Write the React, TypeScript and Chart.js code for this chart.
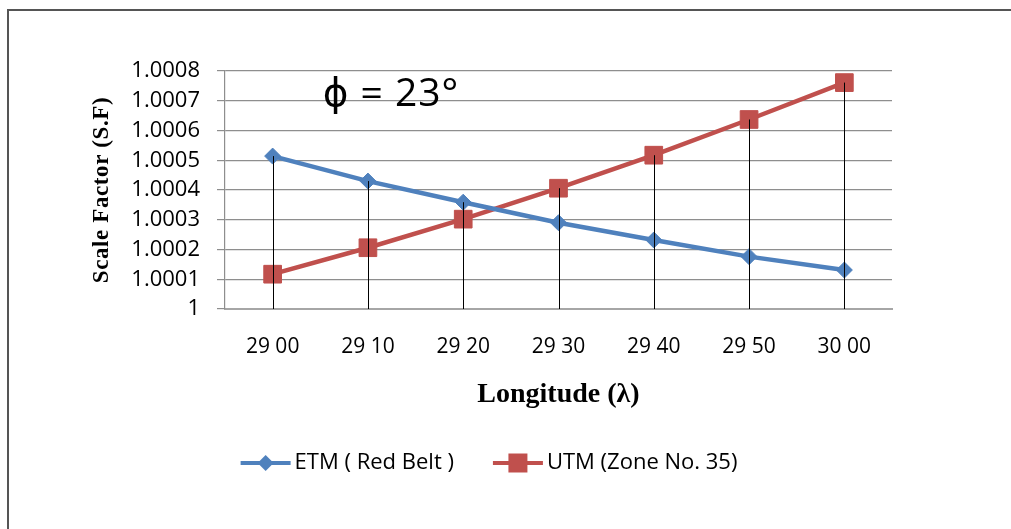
import React, { useEffect, useRef } from 'react';
import { Chart, registerables } from 'chart.js';

Chart.register(...registerables);

const categories = ['29 00', '29 10', '29 20', '29 30', '29 40', '29 50', '30 00'];
const etmValues = [1.000514, 1.00043, 1.000359, 1.00029, 1.000232, 1.000176, 1.000131];
const utmValues = [1.000117, 1.000206, 1.000302, 1.000406, 1.000517, 1.000637, 1.000761];
const yTickValues = [1, 1.0001, 1.0002, 1.0003, 1.0004, 1.0005, 1.0006, 1.0007, 1.0008];
const yTickLabels = ['1', '1.0001', '1.0002', '1.0003', '1.0004', '1.0005', '1.0006', '1.0007', '1.0008'];
const seriesLabels = ['ETM ( Red Belt )', 'UTM (Zone No. 35)'];
const xTitle = 'Longitude (\u03BB)';
const yTitle = 'Scale Factor (S.F)';
const annotationText = '\u03D5 = 23\u00B0';

const BLUE = '#4F81BD';
const RED = '#C0504D';
const GRID = '#8e8e8e';
const SANS = '"Open Sans", "DejaVu Sans", sans-serif';
const SERIF = '"Liberation Serif", "DejaVu Serif", serif';

function drawMarker(ctx: CanvasRenderingContext2D, style: string, x: number, y: number, h: number, color: string) {
  ctx.save();
  ctx.fillStyle = color;
  ctx.beginPath();
  if (style === 'rectRot') {
    ctx.moveTo(x, y - h);
    ctx.lineTo(x + h, y);
    ctx.lineTo(x, y + h);
    ctx.lineTo(x - h, y);
    ctx.closePath();
  } else {
    ctx.rect(x - h, y - h, 2 * h, 2 * h);
  }
  ctx.fill();
  ctx.restore();
}

const decorPlugin = {
  id: 'decor',
  afterDatasetsDraw(chart: any) {
    const ctx: CanvasRenderingContext2D = chart.ctx;
    const m0 = chart.getDatasetMeta(0);
    const m1 = chart.getDatasetMeta(1);
    const bottom = chart.chartArea.bottom;
    ctx.save();
    ctx.strokeStyle = '#000';
    ctx.lineWidth = 1;
    for (let i = 0; i < m0.data.length; i++) {
      const p0 = m0.data[i];
      const p1 = m1.data[i];
      const top = Math.min(p0.y, p1.y);
      const x = Math.round(p0.x) + 0.5;
      ctx.beginPath();
      ctx.moveTo(x, top);
      ctx.lineTo(x, bottom);
      ctx.stroke();
    }
    ctx.restore();
  },
  afterDraw(chart: any) {
    const ctx: CanvasRenderingContext2D = chart.ctx;
    const area = chart.chartArea;
    ctx.save();
    ctx.fillStyle = '#000';
    // y title
    ctx.save();
    ctx.translate(102, (area.top + area.bottom) / 2);
    ctx.rotate(-Math.PI / 2);
    ctx.font = `bold 23px ${SERIF}`;
    ctx.textAlign = 'center';
    ctx.textBaseline = 'middle';
    (ctx as any).letterSpacing = '0.6px';
    ctx.fillText(yTitle, 0, 0);
    (ctx as any).letterSpacing = '0px';
    ctx.restore();
    // x title
    ctx.font = `bold 28px ${SERIF}`;
    ctx.textAlign = 'center';
    ctx.textBaseline = 'middle';
    ctx.fillText(xTitle, (area.left + area.right) / 2, 395);
    // annotation
    ctx.font = `39px ${SANS}`;
    ctx.textAlign = 'center';
    ctx.textBaseline = 'alphabetic';
    (ctx as any).letterSpacing = '1px';
    ctx.fillText(annotationText, 391, 106);
    (ctx as any).letterSpacing = '0px';
    // legend
    const datasets = chart.data.datasets;
    ctx.font = `22px ${SANS}`;
    const lineLen = 50;
    const textGap = 4;
    const itemGap = 39;
    const widths = datasets.map((d: any) => lineLen + textGap + ctx.measureText(d.label).width);
    const total = widths.reduce((a: number, b: number) => a + b, 0) + itemGap * (datasets.length - 1);
    let x = 489 - total / 2;
    const y = 463;
    datasets.forEach((d: any, i: number) => {
      ctx.strokeStyle = d.borderColor;
      ctx.lineWidth = 4;
      ctx.beginPath();
      ctx.moveTo(x, y);
      ctx.lineTo(x + lineLen, y);
      ctx.stroke();
      drawMarker(ctx, d.pointStyle, x + lineLen / 2, y, d.pointStyle === 'rectRot' ? 8 : 9.5, d.borderColor);
      ctx.fillStyle = '#000';
      ctx.textAlign = 'left';
      ctx.textBaseline = 'middle';
      ctx.fillText(d.label, x + lineLen + textGap, y);
      x += widths[i] + itemGap;
    });
    ctx.restore();
  },
};

export default function App() {
  const ref = useRef<HTMLCanvasElement | null>(null);
  useEffect(() => {
    if (!ref.current) return;
    const chart = new Chart(ref.current, {
      type: 'line',
      data: {
        labels: categories,
        datasets: [
          {
            label: seriesLabels[0],
            data: etmValues,
            borderColor: BLUE,
            backgroundColor: BLUE,
            borderWidth: 4.5,
            pointStyle: 'rectRot',
            pointRadius: 8,
            pointBorderWidth: 1,
            pointBackgroundColor: BLUE,
            pointBorderColor: BLUE,
            tension: 0,
          },
          {
            label: seriesLabels[1],
            data: utmValues,
            borderColor: RED,
            backgroundColor: RED,
            borderWidth: 4.5,
            pointStyle: 'rect',
            pointRadius: 12.5,
            pointBorderWidth: 1,
            pointBackgroundColor: RED,
            pointBorderColor: RED,
            tension: 0,
          },
        ],
      },
      options: {
        responsive: false,
        animation: false,
        devicePixelRatio: 1,
        layout: { padding: { top: 71, right: 119, left: 0, bottom: 0 } },
        plugins: { legend: { display: false }, tooltip: { enabled: false } },
        scales: {
          x: {
            type: 'category',
            offset: true,
            grid: { display: false, drawTicks: false },
            border: { display: true, color: '#a6a6a6', width: 2 },
            ticks: {
              color: '#000',
              font: { family: SANS, size: 21 },
              padding: 25,
              maxRotation: 0,
              autoSkip: false,
            },
            afterFit: (s: any) => { s.height = 220; },
          },
          y: {
            min: 1,
            max: 1.0008,
            grid: { color: GRID, lineWidth: 1.2, drawTicks: true, tickLength: 8 },
            border: { display: true, color: GRID, width: 1.2 },
            afterBuildTicks: (s: any) => { s.ticks = yTickValues.map((v) => ({ value: v })); },
            ticks: {
              color: '#000',
              font: { family: SANS, size: 22 },
              padding: 17,
              callback: (_v: any, i: number) => yTickLabels[i],
            },
            afterFit: (s: any) => { s.width = 225; },
          },
        },
      },
      plugins: [decorPlugin],
    });
    return () => chart.destroy();
  }, []);

  return (
    <div style={{ position: 'fixed', left: 0, top: 0, width: 1011, height: 529, overflow: 'hidden', background: '#fff' }}>
      <div style={{ position: 'absolute', left: 7, top: 9, width: 1100, height: 600, border: '2px solid #555' }} />
      <canvas ref={ref} width={1011} height={529} style={{ position: 'absolute', left: 0, top: 0, display: 'block' }} />
    </div>
  );
}
